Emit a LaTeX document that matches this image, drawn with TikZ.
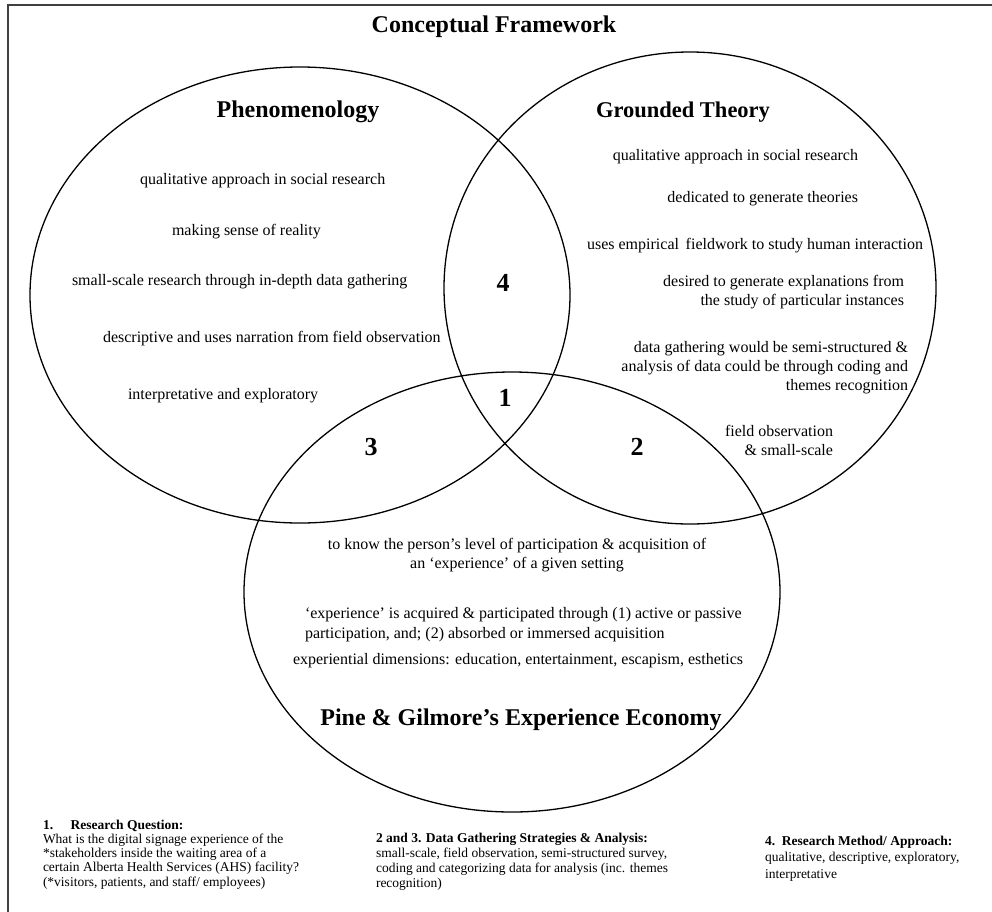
\documentclass[tikz,border=0pt]{standalone}
\usepackage{fontspec}
\setmainfont{Liberation Serif}
\begin{document}
\begin{tikzpicture}[x=1pt,y=-1pt,
  every node/.style={inner sep=0pt, outer sep=0pt},
  body/.style={font=\fontsize{16}{19}\selectfont},
  heading/.style={font=\fontsize{24}{28}\selectfont\bfseries},
  region/.style={font=\fontsize{26}{30}\selectfont\bfseries},
  note/.style={font=\fontsize{13.5}{15}\selectfont, align=left, anchor=north west},
  venn/.style={line width=1.3pt},
  frame/.style={line width=1.6pt, draw=black!75}]
\useasboundingbox (0,0) rectangle (992,911);
% outer frame (only its top and left sides fall on the page)
\draw[frame] (8,1000) -- (8,5) -- (1100,5);

% the three sets
\draw[venn] (300,295) ellipse [x radius=270, y radius=228];
\draw[venn] (690,288) ellipse [x radius=246, y radius=236];
\draw[venn] (512,592) ellipse [x radius=268, y radius=220];

\node[heading] (title) at (494,27) {Conceptual Framework};

% Phenomenology
\node[heading] (phen) at (298,112) {Phenomenology};
\node[body, anchor=mid west] (p1) at (140,182) {qualitative approach in social research};
\node[body, anchor=mid west] (p2) at (172,233) {making sense of reality};
\node[body, anchor=mid west] (p3) at (72,283) {small-scale research through in-depth data gathering};
\node[body, anchor=mid west] (p4) at (103,340) {descriptive and uses narration from field observation};
\node[body, anchor=mid west] (p5) at (128,397) {interpretative and exploratory};

% Grounded Theory
\node[heading, font=\fontsize{22.5}{26}\selectfont\bfseries] (gt) at (683,112) {Grounded Theory};
\node[body, anchor=mid east] (g1) at (858,158) {qualitative approach in social research};
\node[body, anchor=mid east] (g2) at (858,200) {dedicated to generate theories};
\node[body, anchor=mid east] (g3) at (923,247) {uses empirical\, fieldwork to study human interaction};
\node[body, anchor=mid east] (g4) at (904,284) {desired to generate explanations from};
\node[body, anchor=mid east] (g5) at (904,303) {the study of particular instances};
\node[body, anchor=mid east] (g6) at (908,350) {data gathering would be semi-structured \&};
\node[body, anchor=mid east] (g7) at (908,369) {analysis of data could be through coding and};
\node[body, anchor=mid east] (g8) at (908,388) {themes recognition};
\node[body, anchor=mid east] (g9) at (833,434) {field observation};
\node[body, anchor=mid east] (g10) at (833,453) {\& small-scale};

% Experience Economy
\node[body, anchor=mid] (e1) at (517,547) {to know the person’s level of participation \& acquisition of};
\node[body, anchor=mid] (e2) at (517,566) {an ‘experience’ of a given setting};
\node[body, anchor=mid west] (e3) at (305,616) {‘experience’ is acquired \& participated through (1) active or passive};
\node[body, anchor=mid west] (e4) at (305,636) {participation, and; (2) absorbed or immersed acquisition};
\node[body, anchor=mid west] (e5) at (293,662) {experiential dimensions: education, entertainment, escapism, esthetics};
\node[heading] (pg) at (521,720) {Pine \& Gilmore’s Experience Economy};

% overlap numbers
\node[region] (r4) at (503,283) {4};
\node[region] (r1) at (505,398) {1};
\node[region] (r3) at (371,447) {3};
\node[region] (r2) at (637,447) {2};

% notes
\node[note, font=\fontsize{13.5}{14.2}\selectfont] (n1) at (43,820) {\textbf{1.\hspace{1.3em}Research Question:}\\
What is the digital signage experience of the\\
*stakeholders inside the waiting area of a\\
certain Alberta Health Services (AHS) facility?\\
(*visitors, patients, and staff/ employees)};
\node[note, font=\fontsize{13.5}{15}\selectfont] (n2) at (376,833) {\textbf{2 and 3. Data Gathering Strategies \& Analysis:}\\
small-scale, field observation, semi-structured survey,\\
coding and categorizing data for analysis (inc. themes\\
recognition)};
\node[note, font=\fontsize{13.5}{16.5}\selectfont] (n3) at (765,836) {\textbf{4.\ \ Research Method/ Approach:}\\
qualitative, descriptive, exploratory,\\
interpretative};
\end{tikzpicture}
\end{document}
